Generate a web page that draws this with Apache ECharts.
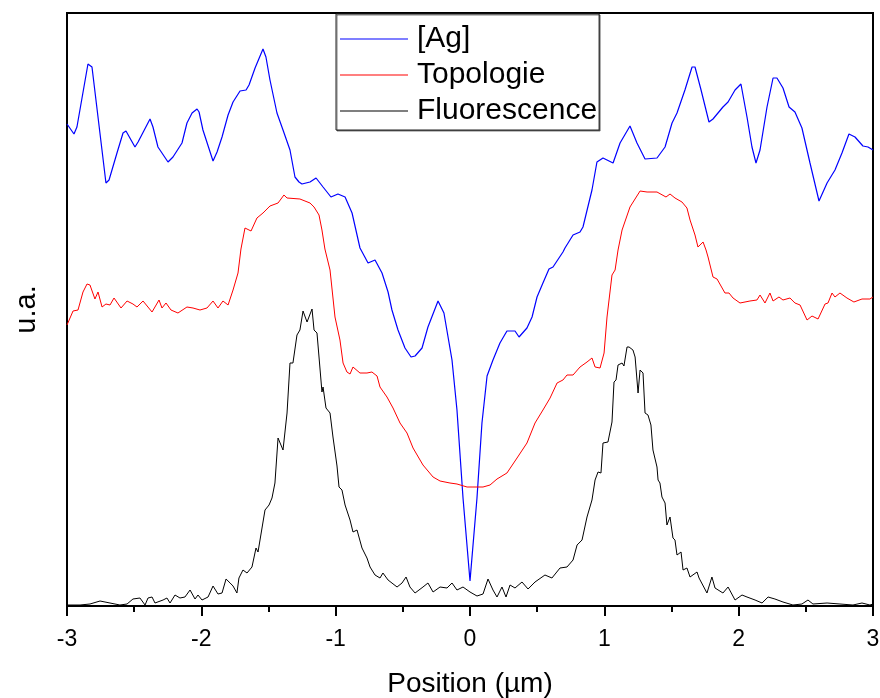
<!DOCTYPE html>
<html>
<head>
<meta charset="utf-8">
<script src="https://cdn.jsdelivr.net/npm/echarts@6/dist/echarts.min.js"></script>
<style>html,body{margin:0;padding:0;background:#fff;}#c{width:880px;height:698px;}</style>
</head>
<body>
<div id="c"></div>
<script>
// Series names
const seriesNames = ['[Ag]', 'Topologie', 'Fluorescence'];
// x tick labels
const xTicks = [-3, -2, -1, 0, 1, 2, 3];

// [Ag] (blue)
const agX = [-3.000,-2.948,-2.926,-2.844,-2.814,-2.710,-2.687,-2.628,-2.583,-2.561,-2.494,-2.471,-2.382,-2.360,-2.323,-2.248,-2.211,-2.144,-2.107,-2.069,-2.032,-2.017,-1.988,-1.913,-1.883,-1.846,-1.801,-1.764,-1.712,-1.667,-1.645,-1.600,-1.541,-1.519,-1.489,-1.437,-1.392,-1.340,-1.303,-1.273,-1.251,-1.191,-1.146,-1.094,-1.035,-0.983,-0.930,-0.878,-0.819,-0.759,-0.707,-0.655,-0.610,-0.581,-0.536,-0.484,-0.439,-0.409,-0.357,-0.313,-0.238,-0.194,-0.134,-0.097,-0.052,0.000,0.052,0.089,0.127,0.171,0.223,0.275,0.335,0.365,0.424,0.462,0.499,0.543,0.588,0.618,0.692,0.707,0.767,0.819,0.841,0.908,0.945,0.990,1.065,1.117,1.191,1.243,1.303,1.392,1.452,1.504,1.541,1.600,1.653,1.675,1.720,1.779,1.809,1.883,1.921,1.973,2.017,2.062,2.099,2.129,2.159,2.211,2.256,2.285,2.330,2.375,2.419,2.471,2.531,2.598,2.658,2.717,2.769,2.821,2.866,2.925,2.963,3.000];
const agY = [482,472,479,542,539,423,426,453,473,475,459,464,487,479,459,444,449,463,483,493,497,494,476,445,454,469,491,504,515,516,521,538,557,549,526,493,476,456,429,424,422,424,428,419,409,412,409,393,358,343,346,333,314,296,276,258,249,250,258,279,305,293,246,196,108,25,108,183,230,246,263,275,275,269,278,289,309,323,337,339,354,358,371,374,379,416,444,448,443,463,480,463,447,448,459,483,493,516,539,539,516,484,487,499,504,516,522,489,459,443,456,499,528,528,518,499,494,478,443,405,423,436,453,472,469,460,459,456];

// Topologie (red)
const topoX = [-3.000,-2.955,-2.918,-2.881,-2.851,-2.829,-2.792,-2.769,-2.739,-2.710,-2.680,-2.650,-2.598,-2.553,-2.509,-2.479,-2.434,-2.367,-2.315,-2.293,-2.263,-2.226,-2.174,-2.107,-2.062,-2.010,-1.958,-1.913,-1.876,-1.839,-1.801,-1.764,-1.727,-1.705,-1.675,-1.630,-1.586,-1.541,-1.489,-1.429,-1.385,-1.362,-1.266,-1.191,-1.161,-1.124,-1.102,-1.080,-1.042,-1.005,-0.968,-0.945,-0.916,-0.893,-0.871,-0.819,-0.767,-0.730,-0.692,-0.670,-0.618,-0.573,-0.521,-0.469,-0.424,-0.350,-0.275,-0.223,-0.149,-0.097,-0.022,0.022,0.097,0.149,0.201,0.275,0.350,0.424,0.484,0.543,0.596,0.648,0.692,0.722,0.767,0.819,0.871,0.908,0.931,0.968,0.998,1.020,1.057,1.080,1.102,1.132,1.191,1.266,1.318,1.392,1.459,1.489,1.526,1.578,1.615,1.638,1.675,1.697,1.735,1.757,1.772,1.809,1.839,1.898,1.928,1.958,2.010,2.084,2.136,2.159,2.196,2.233,2.256,2.300,2.330,2.382,2.419,2.457,2.509,2.546,2.591,2.643,2.665,2.695,2.717,2.754,2.806,2.858,2.918,2.977,3.000];
const topoY = [281,295,296,314,322,321,307,314,299,302,301,308,298,305,302,299,305,294,306,298,303,296,293,299,298,296,298,305,298,305,301,316,333,357,378,375,388,393,400,403,411,408,407,403,399,391,376,357,336,289,266,243,234,232,239,233,233,234,230,219,209,198,183,173,158,141,129,125,123,122,119,119,119,121,127,133,148,163,183,196,208,223,226,231,231,239,244,248,239,238,253,289,331,336,356,376,399,415,414,414,409,412,408,404,398,386,371,359,364,356,349,329,327,313,313,308,303,305,306,311,303,313,305,309,306,308,303,301,286,290,287,302,303,313,309,313,308,304,307,307,309];

// Fluorescence (black)
const fluoX = [-3.000,-2.903,-2.829,-2.754,-2.680,-2.606,-2.553,-2.509,-2.457,-2.419,-2.397,-2.367,-2.345,-2.285,-2.256,-2.233,-2.196,-2.159,-2.122,-2.084,-2.047,-2.025,-1.995,-1.950,-1.913,-1.876,-1.846,-1.816,-1.786,-1.764,-1.735,-1.720,-1.690,-1.660,-1.623,-1.593,-1.578,-1.526,-1.496,-1.474,-1.452,-1.429,-1.392,-1.362,-1.340,-1.318,-1.288,-1.266,-1.243,-1.229,-1.213,-1.176,-1.161,-1.139,-1.102,-1.094,-1.072,-1.042,-1.020,-0.990,-0.975,-0.953,-0.930,-0.893,-0.871,-0.841,-0.804,-0.767,-0.744,-0.707,-0.670,-0.648,-0.610,-0.543,-0.506,-0.476,-0.447,-0.409,-0.350,-0.313,-0.275,-0.223,-0.171,-0.134,-0.097,-0.052,0.000,0.052,0.097,0.134,0.171,0.201,0.238,0.268,0.298,0.335,0.387,0.432,0.484,0.558,0.610,0.670,0.722,0.767,0.797,0.834,0.871,0.908,0.931,0.953,0.975,0.990,1.027,1.057,1.072,1.087,1.102,1.132,1.146,1.169,1.184,1.213,1.229,1.251,1.266,1.288,1.303,1.325,1.347,1.362,1.392,1.400,1.414,1.429,1.452,1.466,1.489,1.511,1.526,1.541,1.571,1.586,1.615,1.638,1.690,1.705,1.764,1.801,1.824,1.883,1.921,1.973,2.025,2.062,2.122,2.174,2.219,2.270,2.330,2.404,2.471,2.516,2.553,2.658,2.754,2.851,2.918,2.977,3.000];
const fluoY = [1,1,2,5,3,1,2,7,8,1,8,9,3,6,8,3,11,8,9,16,7,11,6,9,20,12,13,27,23,20,13,28,36,33,39,58,54,96,101,108,123,168,156,193,243,243,271,276,295,295,284,297,276,273,214,219,198,193,169,140,119,116,101,86,74,76,58,48,39,31,28,33,26,19,23,29,19,13,19,23,14,19,18,23,16,19,14,10,12,27,16,9,19,9,21,18,24,17,24,31,28,38,39,46,61,66,89,106,126,134,133,163,164,184,224,226,241,243,240,259,259,256,249,213,236,233,193,191,181,156,139,126,123,109,103,81,89,68,66,51,54,36,38,29,34,28,13,29,18,13,19,6,11,9,6,3,9,7,4,1,2,6,2,3,2,1,3,1,2];

function zip(xs, ys) { return xs.map((x, i) => [x, ys[i]]); }

const chart = echarts.init(document.getElementById('c'), null, { renderer: 'canvas' });
const font = 'Liberation Sans, Arial, sans-serif';
chart.setOption({
  animation: false,
  backgroundColor: '#fff',
  grid: { left: 67, right: 7, top: 13, bottom: 92, show: true, borderColor: '#000', borderWidth: 2, containLabel: false, outerBoundsMode: 'none' },
  legend: {
    orient: 'vertical',
    left: 336, top: 14,
    padding: [10, 2, 4, 4],
    backgroundColor: '#fff',
    borderColor: '#222', borderWidth: 1,
    shadowColor: 'rgba(0,0,0,0.5)', shadowOffsetX: 1, shadowOffsetY: 1, shadowBlur: 0,
    itemWidth: 68, itemHeight: 1, itemGap: 6,
    icon: 'rect',
    textStyle: { fontFamily: font, fontSize: 30, color: '#000', lineHeight: 30, padding: [0, 0, 0, 4] },
    data: seriesNames
  },
  xAxis: {
    type: 'value', min: xTicks[0], max: xTicks[xTicks.length - 1], interval: 1,
    name: 'Position (µm)', nameLocation: 'middle', nameGap: 64,
    nameTextStyle: { fontFamily: font, fontSize: 28, color: '#000' },
    axisLine: { onZero: false, lineStyle: { color: '#000', width: 2 } },
    axisTick: { show: true, inside: false, length: 10, lineStyle: { color: '#000', width: 2 } },
    minorTick: { show: true, splitNumber: 2, length: 6, lineStyle: { color: '#000', width: 2 } },
    axisLabel: { fontFamily: font, fontSize: 23, color: '#000', margin: 22 },
    splitLine: { show: false }
  },
  yAxis: {
    type: 'value', min: 0, max: 593,
    name: 'u.a.', nameLocation: 'middle', nameGap: 26,
    nameTextStyle: { fontFamily: font, fontSize: 29, color: '#000' },
    axisLine: { show: true, onZero: false, lineStyle: { color: '#000', width: 2 } },
    axisTick: { show: false }, axisLabel: { show: false }, splitLine: { show: false }
  },
  series: [
    { name: seriesNames[0], type: 'line', data: zip(agX, agY), symbol: 'none', lineStyle: { color: '#0000ff', width: 1.2 }, itemStyle: { color: '#0000ff' } },
    { name: seriesNames[1], type: 'line', data: zip(topoX, topoY), symbol: 'none', lineStyle: { color: '#ff0000', width: 1 }, itemStyle: { color: '#ff0000' } },
    { name: seriesNames[2], type: 'line', data: zip(fluoX, fluoY), symbol: 'none', lineStyle: { color: '#000000', width: 1 }, itemStyle: { color: '#000000' } }
  ]
});
</script>
</body>
</html>
